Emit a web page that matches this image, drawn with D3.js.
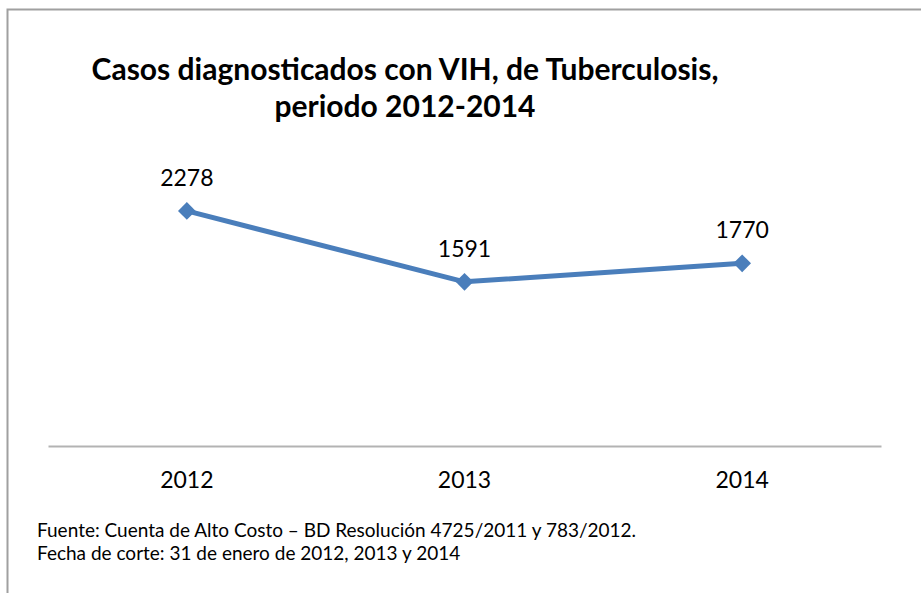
<!DOCTYPE html>
<html>
<head>
<meta charset="utf-8">
<script src="https://cdn.jsdelivr.net/npm/d3@7"></script>
<style>
  body { margin: 0; background: #fff; }
  svg { display: block; font-family: Lato, "Open Sans", sans-serif; }
</style>
</head>
<body>
<div id="chart"></div>
<script>
const width = 921, height = 593;

// data
const years = ['2012', '2013', '2014'];
const casos = [2278, 1591, 1770];
const title_lines = ['Casos diagnosticados con VIH, de Tuberculosis,', 'periodo 2012-2014'];
const notes = [
  'Fuente: Cuenta de Alto Costo \u2013 BD Resoluci\u00f3n 4725/2011 y 783/2012.',
  'Fecha de corte: 31 de enero de 2012, 2013 y 2014'
];

const data = years.map((y, i) => ({year: y, value: casos[i]}));

const margin = {top: 188, right: 40, bottom: 147, left: 48};
const line_color = '#4a7ebb';

const svg = d3.select('#chart').append('svg')
  .attr('width', width)
  .attr('height', height);

// outer frame (only left + top show in the crop)
svg.append('path')
  .attr('d', `M7.5,${height}V9.5H${width}`)
  .attr('fill', 'none')
  .attr('stroke', '#a0a0a0')
  .attr('stroke-width', 2);

const x = d3.scaleBand()
  .domain(years)
  .range([margin.left, width - margin.right]);

const y = d3.scaleLinear()
  .domain([0, 2500])
  .range([height - margin.bottom, margin.top]);

// category axis
const xAxis = svg.append('g')
  .attr('transform', `translate(0,${height - margin.bottom})`)
  .call(d3.axisBottom(x).tickSize(0).tickPadding(26));
xAxis.select('.domain').attr('stroke', '#b3b3b3').attr('stroke-width', 2);
xAxis.selectAll('text')
  .attr('font-size', 23)
  .attr('fill', '#000')
  .attr('font-family', 'Lato, sans-serif');

const cx = d => x(d.year) + x.bandwidth() / 2;

svg.append('path')
  .datum(data)
  .attr('fill', 'none')
  .attr('stroke', line_color)
  .attr('stroke-width', 5)
  .attr('stroke-linejoin', 'round')
  .attr('d', d3.line().x(cx).y(d => y(d.value)));

svg.selectAll('.marker')
  .data(data)
  .join('path')
  .attr('class', 'marker')
  .attr('transform', d => `translate(${cx(d)},${y(d.value)})`)
  .attr('d', d3.symbol(d3.symbolDiamond2, 200)())
  .attr('fill', line_color);

svg.selectAll('.value_label')
  .data(data)
  .join('text')
  .attr('class', 'value_label')
  .attr('x', cx)
  .attr('y', d => y(d.value) - 25)
  .attr('text-anchor', 'middle')
  .attr('font-size', 23)
  .text(d => d.value);

// title
svg.append('g')
  .selectAll('text')
  .data(title_lines)
  .join('text')
  .attr('x', 405)
  .attr('y', (d, i) => 80 + i * 37)
  .attr('text-anchor', 'middle')
  .attr('font-size', 30)
  .attr('font-weight', 'bold')
  .text(d => d);

// source notes
svg.append('g')
  .selectAll('text')
  .data(notes)
  .join('text')
  .attr('x', 37)
  .attr('y', (d, i) => 537 + i * 23)
  .attr('font-size', 19)
  .text(d => d);
</script>
</body>
</html>
